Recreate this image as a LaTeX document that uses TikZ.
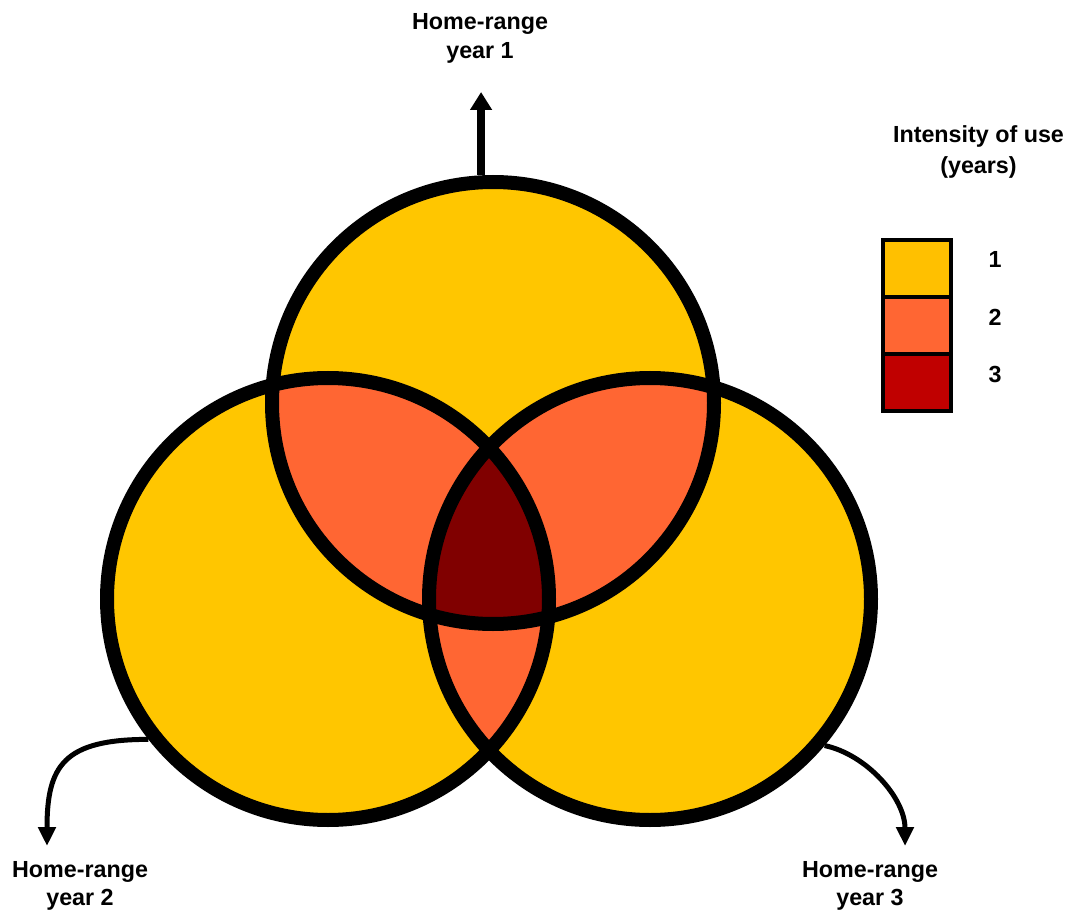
\documentclass[tikz,border=0pt]{standalone}
\usepackage{fontspec}
\setmainfont{Liberation Sans}
\usetikzlibrary{arrows.meta}
\definecolor{yel}{HTML}{FFC600}
\definecolor{org}{HTML}{FF6633}
\definecolor{mar}{HTML}{800000}
\definecolor{legyel}{HTML}{FFC000}
\definecolor{legred}{HTML}{C00000}
\begin{document}
\begin{tikzpicture}[x=1pt,y=-1pt,
  ring/.style={circle, draw=black, line width=14pt, minimum size=442pt, inner sep=0pt, outer sep=7pt},
  lbl/.style={font=\fontsize{23.3}{28.5}\selectfont\bfseries, align=center, inner sep=0pt},
  leglbl/.style={font=\fontsize{23.3}{31}\selectfont\bfseries, align=center, inner sep=0pt},
  cell/.style={draw=black, line width=3.5pt, minimum width=68pt, minimum height=57pt, inner sep=0pt, outer sep=0pt},
  thickarrow/.style={line width=7.5pt, -{Triangle[width=21pt,length=18pt]}},
  curvearrow/.style={line width=5pt, -{Triangle[width=17pt,length=19pt]}}]
\path[use as bounding box] (0,0) rectangle (1069,912);
\coordinate (p1) at (493,403);
\coordinate (p2) at (328,599);
\coordinate (p3) at (650,599);
% fills
\fill[yel] (p1) circle[radius=221];
\fill[yel] (p2) circle[radius=221];
\fill[yel] (p3) circle[radius=221];
\begin{scope}
  \clip (p1) circle[radius=221];
  \fill[org] (p2) circle[radius=221];
  \fill[org] (p3) circle[radius=221];
\end{scope}
\begin{scope}
  \clip (p2) circle[radius=221];
  \fill[org] (p3) circle[radius=221];
\end{scope}
\begin{scope}
  \clip (p1) circle[radius=221];
  \clip (p2) circle[radius=221];
  \fill[mar] (p3) circle[radius=221];
\end{scope}
% outlines
\node[ring] (c1) at (p1) {};
\node[ring] (c2) at (p2) {};
\node[ring] (c3) at (p3) {};
% labels
\node[lbl, anchor=base] (h1) at (480,58.5) {Home-range\\year 1};
\node[lbl, anchor=base] (h2) at (80,905.5) {Home-range\\year 2};
\node[lbl, anchor=base] (h3) at (870,905.5) {Home-range\\year 3};
% arrows
\coordinate (t1) at (481,92);
\coordinate (t2) at (47,846);
\coordinate (t3) at (905,846);
\draw[thickarrow] (c1.93) -- (c1.93 |- t1);
\draw[curvearrow] (c2.218) .. controls +(-85,0) and +(0,-80) .. (t2);
\draw[curvearrow] (c3.320) .. controls +(42,9) and +(0,-48) .. (t3);
% legend
\node[leglbl, anchor=base] (lt) at (978.5,174) {Intensity of use\\(years)};
\node[cell, fill=legyel] (k1) at (917,268.5) {};
\node[cell, fill=org] (k2) at (917,325.5) {};
\node[cell, fill=legred] (k3) at (917,382.5) {};
\node[leglbl, anchor=base] (n1) at (995,268) {1};
\node[leglbl, anchor=base] (n2) at (995,325) {2};
\node[leglbl, anchor=base] (n3) at (995,382) {3};
\end{tikzpicture}
\end{document}
